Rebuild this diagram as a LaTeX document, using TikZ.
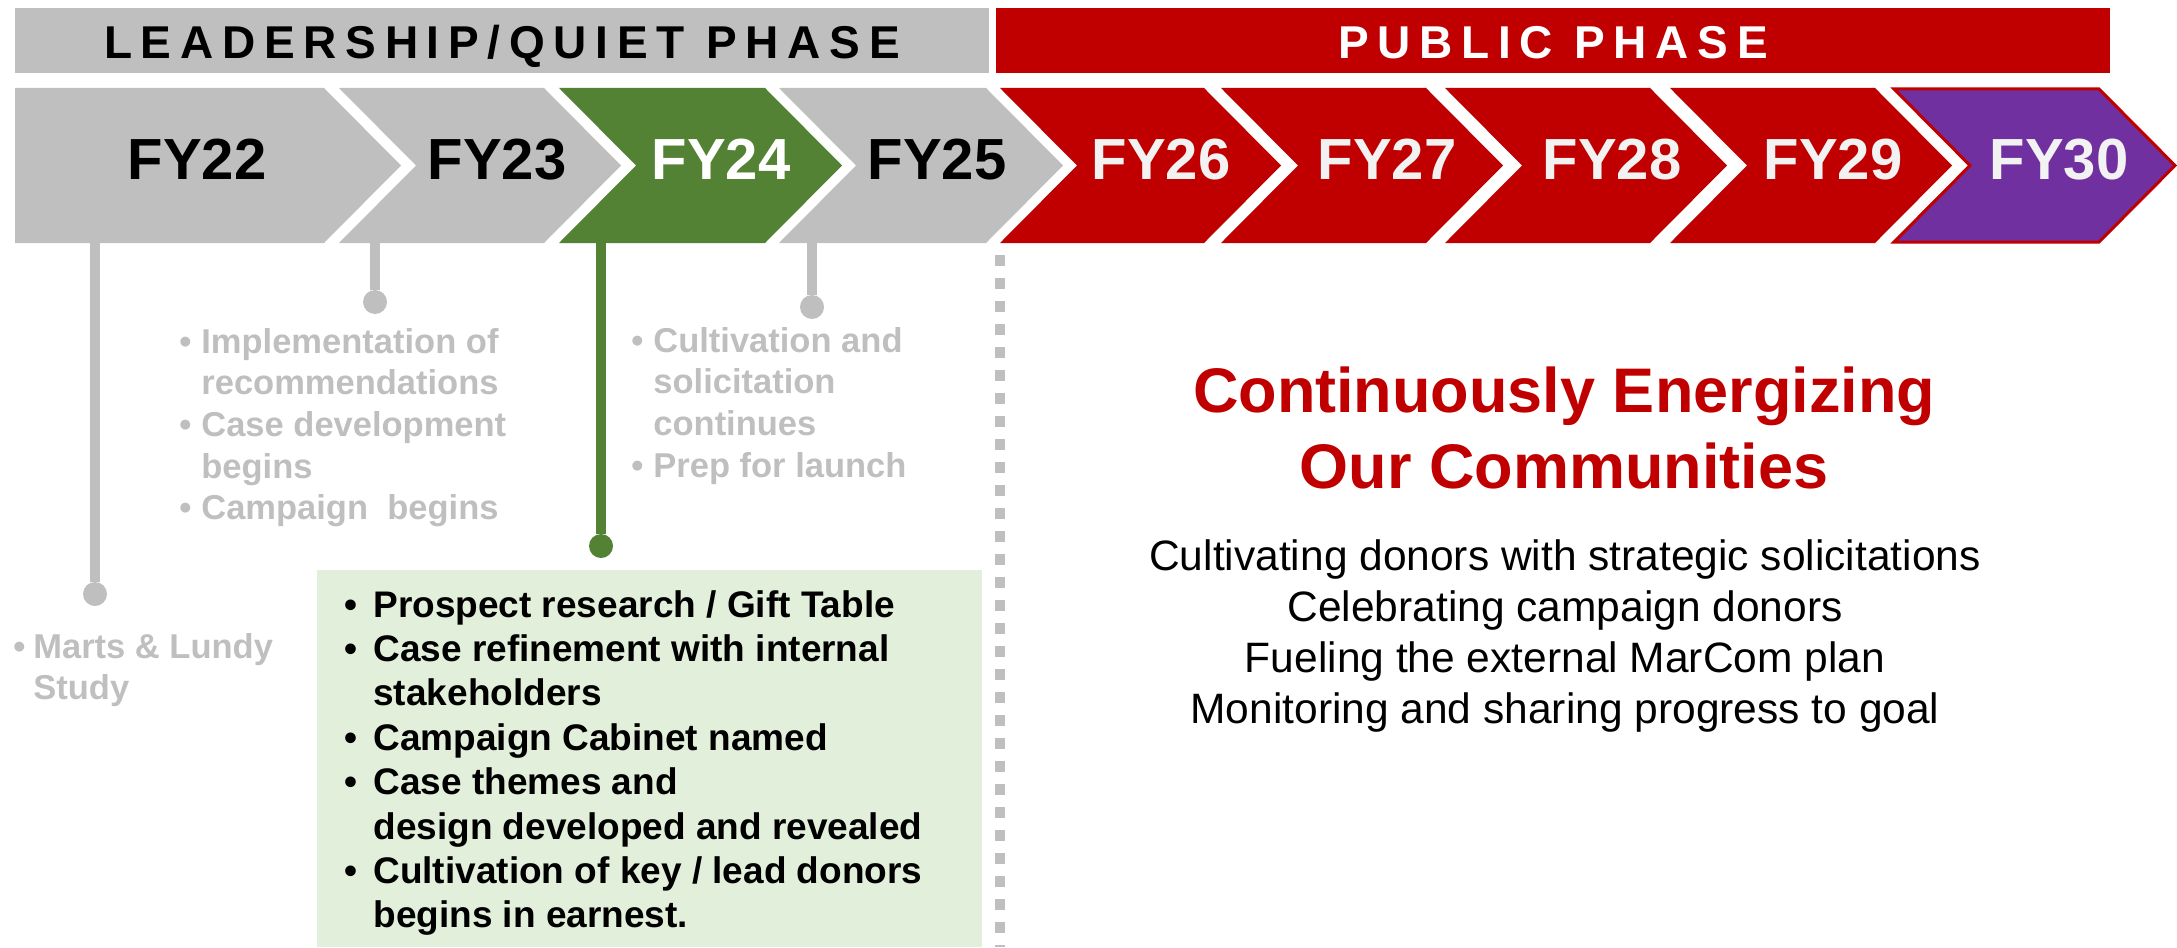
\documentclass[tikz,border=0pt]{standalone}
\usepackage{fontspec}
\setmainfont{Liberation Sans}
\usepackage{xcolor}
\usetikzlibrary{positioning}
\definecolor{phasegray}{HTML}{BFBFBF}
\definecolor{quietgreen}{HTML}{548235}
\definecolor{boxgreen}{HTML}{E2EFDA}
\definecolor{publicred}{HTML}{C00000}
\definecolor{goalpurple}{HTML}{7030A0}
\definecolor{yearwhite}{HTML}{F2F2F2}
\tikzset{
    banner text/.style = {anchor=base, inner sep=0pt, font=\fontsize{23}{27}\selectfont\bfseries\addfontfeature{LetterSpace=19}},
    year/.style = {anchor=base, inner sep=0pt, font=\fontsize{29}{34}\selectfont\bfseries},
}
\tikzset{
    stem/.style = {draw=phasegray, line width=5pt},
    dot/.style = {circle, fill=phasegray, inner sep=0pt, minimum size=12pt},
    divider/.style = {draw=phasegray, line width=5pt, dash pattern=on 5.5pt off 6pt},
    note/.style = {anchor=base west, inner sep=0pt, text=phasegray, font=\fontsize{17.25}{20.85}\selectfont\bfseries},
    task/.style = {anchor=base west, inner sep=0pt, font=\fontsize{18.5}{22.2}\selectfont\bfseries},
    slogan/.style = {anchor=base, inner sep=0pt, text=publicred, font=\fontsize{31.5}{38}\selectfont\bfseries},
    aim/.style = {anchor=base, inner sep=0pt, font=\fontsize{21.25}{25.5}\selectfont},
}
\newcommand{\itembul}[1][11pt]{\makebox[#1][l]{\textbullet}}

\begin{document}
\begin{tikzpicture}[x = 0.5pt, y = -0.5pt]
            \useasboundingbox (0, 0) rectangle (2177, 947);

            \fill[phasegray] (15, 8) rectangle (989, 73);
            \fill[publicred] (996, 8) rectangle (2110, 73);
            \node[banner text] (quiet) at (502, 59) {LEADERSHIP/QUIET PHASE};
            \node[banner text, text = white] (public) at (1553, 59) {PUBLIC PHASE};

            \fill[phasegray] (15, 88) -- (324, 88) -- ++(77, 77.5) -- ++(-77, 77.5) -- (15, 243) -- cycle;
            \fill[phasegray] (339, 88) -- ++(205, 0) -- ++(77, 77.5) -- ++(-77, 77.5) -- ++(-205, 0) -- ++(77, -77.5) -- cycle;
            \fill[quietgreen] (559, 88) -- ++(206, 0) -- ++(77, 77.5) -- ++(-77, 77.5) -- ++(-206, 0) -- ++(77, -77.5) -- cycle;
            \fill[phasegray] (779, 88) -- ++(207, 0) -- ++(77, 77.5) -- ++(-77, 77.5) -- ++(-207, 0) -- ++(77, -77.5) -- cycle;
            \fill[publicred] (1000, 88) -- ++(204, 0) -- ++(77, 77.5) -- ++(-77, 77.5) -- ++(-204, 0) -- ++(77, -77.5) -- cycle;
            \fill[publicred] (1221, 88) -- ++(205, 0) -- ++(77, 77.5) -- ++(-77, 77.5) -- ++(-205, 0) -- ++(77, -77.5) -- cycle;
            \fill[publicred] (1445, 88) -- ++(205, 0) -- ++(77, 77.5) -- ++(-77, 77.5) -- ++(-205, 0) -- ++(77, -77.5) -- cycle;
            \fill[publicred] (1670, 88) -- ++(205, 0) -- ++(77, 77.5) -- ++(-77, 77.5) -- ++(-205, 0) -- ++(77, -77.5) -- cycle;
            \filldraw[fill = goalpurple, draw = publicred, line width = 1.5pt] (1894, 89) -- ++(205, 0) -- ++(76, 76.5) -- ++(-76, 76.5) -- ++(-205, 0) -- ++(76, -76.5) -- cycle;

            \node[year] (fy22) at (197, 179) {FY22};
            \node[year] (fy23) at (497, 179) {FY23};
            \node[year, text = white] (fy24) at (721, 179) {FY24};
            \node[year] (fy25) at (937, 179) {FY25};
            \node[year, text = yearwhite] (fy26) at (1161, 179) {FY26};
            \node[year, text = yearwhite] (fy27) at (1387, 179) {FY27};
            \node[year, text = yearwhite] (fy28) at (1612, 179) {FY28};
            \node[year, text = yearwhite] (fy29) at (1833, 179) {FY29};
            \node[year, text = yearwhite] (fy30) at (2059, 179) {FY30};

            \coordinate (foot22) at (95, 243);
            \coordinate (foot23) at (375, 243);
            \coordinate (foot24) at (601, 243);
            \coordinate (foot25) at (812, 243);

            \node[dot] (dot22) at (95, 594) {};
            \node[dot] (dot23) at (375, 302) {};
            \node[dot, fill = quietgreen] (dot24) at (601, 546) {};
            \node[dot] (dot25) at (812, 307) {};

            \draw[stem] (foot22) -- (dot22);
            \draw[stem] (foot23) -- (dot23);
            \draw[stem, draw = quietgreen] (foot24) -- (dot24);
            \draw[stem] (foot25) -- (dot25);

            \draw[divider] (1000, 255) -- (1000, 947);

            \node[note] (notes22) at (13, 658) {\begin{tabular}[t]{@{}l@{}l@{}}
                \itembul[10pt] & Marts \& Lundy\\
                & Study
            \end{tabular}};
            \node[note] (notes23) at (179, 353) {\begin{tabular}[t]{@{}l@{}l@{}}
                \itembul & Implementation of\\
                & recommendations\\
                \itembul & Case development\\
                & begins\\
                \itembul & Campaign\ \ begins
            \end{tabular}};
            \node[note] (notes25) at (631, 352) {\begin{tabular}[t]{@{}l@{}l@{}}
                \itembul & Cultivation and\\
                & solicitation\\
                & continues\\
                \itembul & Prep for launch
            \end{tabular}};

            \fill[boxgreen] (317, 570) rectangle (982, 947);
            \node[task] (tasks24) at (344, 617) {\begin{tabular}[t]{@{}l@{}l@{}}
                \itembul[14.5pt] & Prospect research / Gift Table\\
                \itembul[14.5pt] & Case refinement with internal\\
                & stakeholders\\
                \itembul[14.5pt] & Campaign Cabinet named\\
                \itembul[14.5pt] & Case themes and\\
                & design developed and revealed\\
                \itembul[14.5pt] & Cultivation of key / lead donors\\
                & begins in earnest.
            \end{tabular}};

            \node[slogan] (energize) at (1564, 412) {\begin{tabular}[t]{@{}c@{}}
                Continuously Energizing\\
                Our Communities
            \end{tabular}};
            \node[aim] (aims) at (1565, 570) {\begin{tabular}[t]{@{}c@{}}
                Cultivating donors with strategic solicitations\\
                Celebrating campaign donors\\
                Fueling the external MarCom plan\\
                Monitoring and sharing progress to goal
            \end{tabular}};
        \end{tikzpicture}
\end{document}
